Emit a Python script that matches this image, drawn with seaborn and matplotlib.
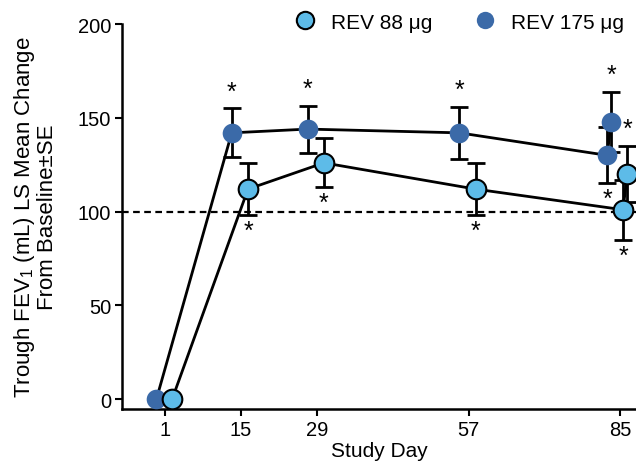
import matplotlib
matplotlib.use("Agg")
import matplotlib.pyplot as plt
import seaborn as sns
import pandas as pd
import numpy as np
from matplotlib.lines import Line2D

# ---- data ----
tick_days = [1, 15, 29, 57, 85]
tick_labels = ["1", "15", "29", "57", "85"]

x_175 = [-0.6, 13.3, 27.3, 55.3, 82.6, 83.3]
y_175 = [0, 142, 144, 142, 130, 148]
se_175 = [0, 13, 12.5, 14, 15, 16]
star_175 = ["", "up", "up", "up", "down", "up"]

x_88 = [2.3, 16.3, 30.3, 58.3, 85.5, 86.3]
y_88 = [0, 112, 126, 112, 101, 120]
se_88 = [0, 14, 13, 14, 16, 15]
star_88 = ["", "down", "down", "down", "down", "up"]

ref_line = 100
series_names = ["REV 88 μg", "REV 175 μg"]
colors = {"REV 88 μg": "#5DBBE8", "REV 175 μg": "#3B6AA8"}

sns.set_theme(style="ticks")
plt.rcParams["font.family"] = ["Liberation Sans", "DejaVu Sans"]
plt.rcParams["mathtext.default"] = "regular"
plt.rcParams["text.color"] = "black"
plt.rcParams["axes.labelcolor"] = "black"
plt.rcParams["xtick.color"] = "black"
plt.rcParams["ytick.color"] = "black"

df = pd.concat([
    pd.DataFrame({"x": x_88, "y": y_88, "se": se_88, "series": series_names[0]}),
    pd.DataFrame({"x": x_175, "y": y_175, "se": se_175, "series": series_names[1]}),
], ignore_index=True)

fig = plt.figure(figsize=(6.36, 4.64), dpi=100)
ax = fig.add_axes([0.192, 0.116, 0.808, 0.83])

ax.axhline(ref_line, color="black", lw=1.6, ls=(0, (3, 2)), zorder=1)

for name in series_names:
    d = df[df.series == name]
    sns.lineplot(data=d, x="x", y="y", color="black", lw=2, ax=ax, zorder=2,
                 sort=True, estimator=None)
    ax.errorbar(d["x"], d["y"], yerr=d["se"], fmt="none", ecolor="black",
                elinewidth=2, capsize=6.5, capthick=2, zorder=3)

sns.scatterplot(data=df[df.series == series_names[1]], x="x", y="y",
                color=colors[series_names[1]], s=200, linewidth=0,
                ax=ax, zorder=4, legend=False)
sns.scatterplot(data=df[df.series == series_names[0]], x="x", y="y",
                color=colors[series_names[0]], s=200, edgecolor="black",
                linewidth=1.5, ax=ax, zorder=5, legend=False)

# asterisks
for xs, ys, ses, st in [(x_175, y_175, se_175, star_175), (x_88, y_88, se_88, star_88)]:
    for xv, yv, sv, s in zip(xs, ys, ses, st):
        if s == "up":
            ax.text(xv, yv + sv + 2.5, "*", ha="center", va="bottom", fontsize=18, zorder=6)
        elif s == "down":
            ax.text(xv, yv - sv - 2, "*", ha="center", va="top", fontsize=18, zorder=6)

ax.set_xlim(-6.93, 87.9)
ax.set_ylim(-5.33, 200)
ax.set_xticks(tick_days)
ax.set_xticklabels(tick_labels)
ax.set_yticks([0, 50, 100, 150, 200])
ax.tick_params(axis="both", labelsize=14.5, width=1.5, length=5, direction="out", color="black",
               pad=3)
for sp in ["top", "right"]:
    ax.spines[sp].set_visible(False)
for sp in ["left", "bottom"]:
    ax.spines[sp].set_linewidth(1.8)
    ax.spines[sp].set_color("black")

ax.set_xlabel("Study Day", fontsize=15, labelpad=1.5)
ax.set_ylabel("Trough FEV$_1$ (mL) LS Mean Change\nFrom Baseline±SE", fontsize=16,
              labelpad=14, linespacing=1.0)

handles = [
    Line2D([], [], ls="none", marker="o", markersize=12.5, markerfacecolor=colors[series_names[0]],
           markeredgecolor="black", markeredgewidth=1.5),
    Line2D([], [], ls="none", marker="o", markersize=12.5, markerfacecolor=colors[series_names[1]],
           markeredgewidth=0),
]
fig.legend(handles, series_names, loc="center left", bbox_to_anchor=(0.447, 0.95), ncol=2,
           frameon=False, fontsize=15, handletextpad=0.25, columnspacing=1.5,
           borderaxespad=0, borderpad=0)

fig.savefig("out.png", dpi=100)
